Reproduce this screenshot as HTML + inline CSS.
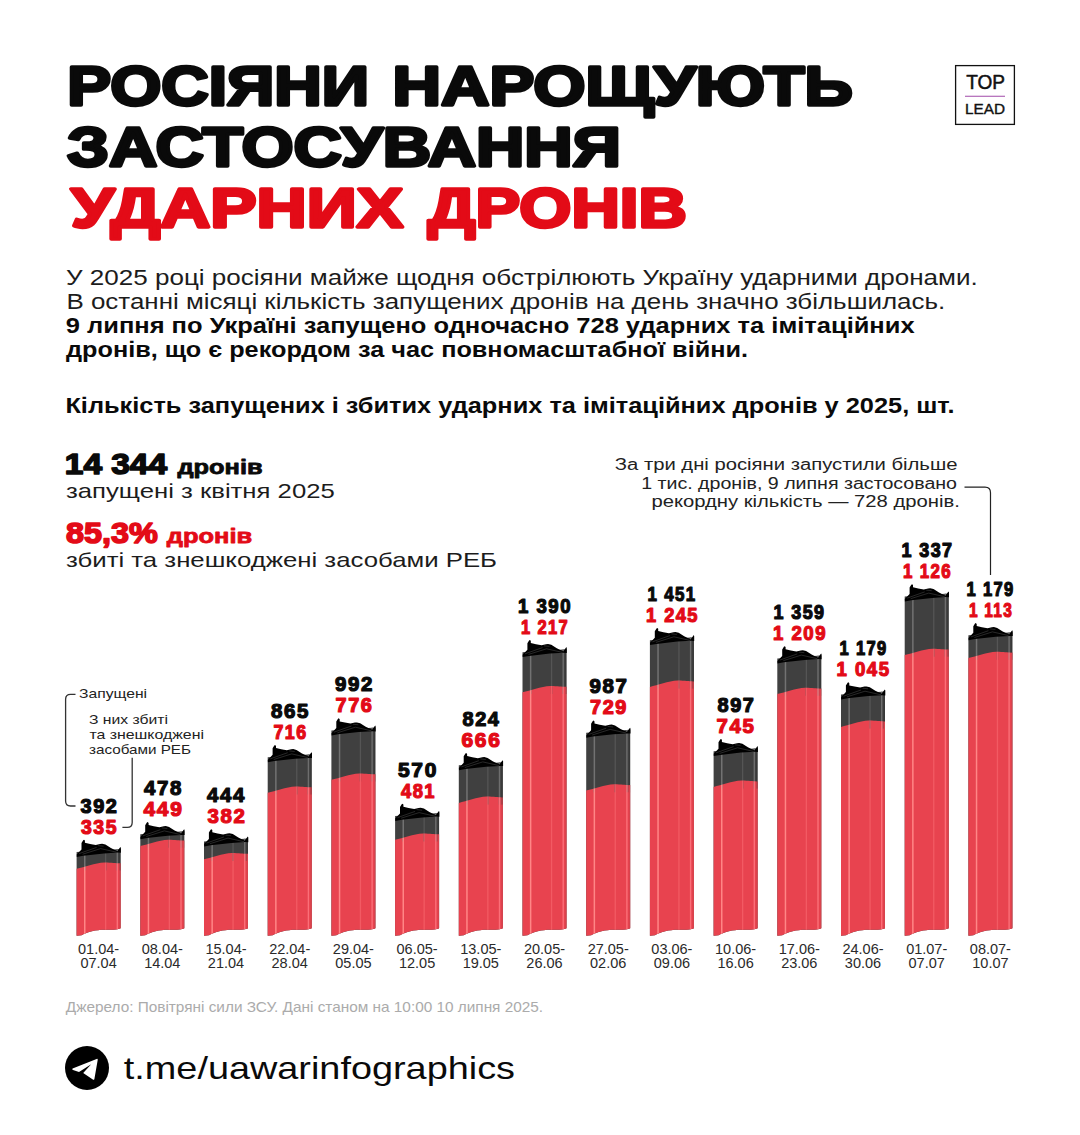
<!DOCTYPE html>
<html lang="uk">
<head>
<meta charset="utf-8">
<title>Росіяни нарощують застосування ударних дронів</title>
<style>
html,body{margin:0;padding:0;background:#fff;}
body{width:1080px;height:1135px;overflow:hidden;}
svg{display:block;font-family:"Liberation Sans", sans-serif;}
</style>
</head>
<body>
<svg width="1080" height="1135" viewBox="0 0 1080 1135">
<rect width="1080" height="1135" fill="#fff"/>
<clipPath id="cb0"><path d="M76.60 852.00 L120.60 849.00 L120.60 928.20 C116.60 930.20 110.60 929.80 104.60 929.70 C95.60 929.80 87.60 931.50 81.60 935.30 L76.60 935.80 Z"/></clipPath>
<clipPath id="cr0"><path d="M76.60 868.80 C84.60 867.00 94.60 863.00 104.60 862.50 C112.60 862.50 116.60 863.50 120.60 863.30 L120.60 928.20 C116.60 930.20 110.60 929.80 104.60 929.70 C95.60 929.80 87.60 931.50 81.60 935.30 L76.60 935.80 Z"/></clipPath>
<path d="M76.60 852.00 L120.60 849.00 L120.60 928.20 C116.60 930.20 110.60 929.80 104.60 929.70 C95.60 929.80 87.60 931.50 81.60 935.30 L76.60 935.80 Z" fill="#404040"/>
<path d="M76.60 868.80 C84.60 867.00 94.60 863.00 104.60 862.50 C112.60 862.50 116.60 863.50 120.60 863.30 L120.60 928.20 C116.60 930.20 110.60 929.80 104.60 929.70 C95.60 929.80 87.60 931.50 81.60 935.30 L76.60 935.80 Z" fill="#e8434f"/>
<g clip-path="url(#cb0)"><rect x="84.00" y="848.00" width="1.5" height="22.50" fill="#727272"/><rect x="105.00" y="848.00" width="1.3" height="22.50" fill="#555555"/><rect x="116.60" y="848.00" width="1.4" height="22.50" fill="#6e6e6e"/><rect x="119.20" y="848.00" width="1.4" height="22.50" fill="#383838"/></g>
<g clip-path="url(#cr0)"><rect x="84.00" y="860.50" width="1.5" height="77.50" fill="#ff8686"/><rect x="105.00" y="860.50" width="1.3" height="77.50" fill="#f25a63"/><rect x="116.60" y="860.50" width="1.4" height="77.50" fill="#fb6f78"/><rect x="119.20" y="860.50" width="1.4" height="77.50" fill="#d8434d"/></g>
<path d="M81.50 843.00 L83.20 840.20 L84.00 839.70 L84.90 840.60 L84.90 842.80 L90.10 844.00 L95.70 845.00 L100.10 844.00 L102.10 843.80 L105.40 844.60 L110.90 848.10 L117.40 851.20 L119.60 848.00 L120.50 846.90 L120.90 848.00 L120.90 852.80 L117.80 852.60 L104.00 853.40 L83.20 855.70 L76.80 856.90 L76.70 854.60 L81.50 849.50 Z" fill="#000"/>
<path d="M79.10 853.60 L96.60 847.40 M82.60 854.20 L100.60 848.60 L116.60 852.20 M98.10 845.60 L103.60 846.20" fill="none" stroke="#4a4a4a" stroke-width="0.55"/>
<clipPath id="cb1"><path d="M140.30 834.30 L184.30 831.30 L184.30 928.20 C180.30 930.20 174.30 929.80 168.30 929.70 C159.30 929.80 151.30 931.50 145.30 935.30 L140.30 935.80 Z"/></clipPath>
<clipPath id="cr1"><path d="M140.30 846.00 C148.30 844.20 158.30 840.20 168.30 839.70 C176.30 839.70 180.30 840.70 184.30 840.50 L184.30 928.20 C180.30 930.20 174.30 929.80 168.30 929.70 C159.30 929.80 151.30 931.50 145.30 935.30 L140.30 935.80 Z"/></clipPath>
<path d="M140.30 834.30 L184.30 831.30 L184.30 928.20 C180.30 930.20 174.30 929.80 168.30 929.70 C159.30 929.80 151.30 931.50 145.30 935.30 L140.30 935.80 Z" fill="#404040"/>
<path d="M140.30 846.00 C148.30 844.20 158.30 840.20 168.30 839.70 C176.30 839.70 180.30 840.70 184.30 840.50 L184.30 928.20 C180.30 930.20 174.30 929.80 168.30 929.70 C159.30 929.80 151.30 931.50 145.30 935.30 L140.30 935.80 Z" fill="#e8434f"/>
<g clip-path="url(#cb1)"><rect x="147.70" y="830.30" width="1.5" height="17.40" fill="#727272"/><rect x="168.70" y="830.30" width="1.3" height="17.40" fill="#555555"/><rect x="180.30" y="830.30" width="1.4" height="17.40" fill="#6e6e6e"/><rect x="182.90" y="830.30" width="1.4" height="17.40" fill="#383838"/></g>
<g clip-path="url(#cr1)"><rect x="147.70" y="837.70" width="1.5" height="100.30" fill="#ff8686"/><rect x="168.70" y="837.70" width="1.3" height="100.30" fill="#f25a63"/><rect x="180.30" y="837.70" width="1.4" height="100.30" fill="#fb6f78"/><rect x="182.90" y="837.70" width="1.4" height="100.30" fill="#d8434d"/></g>
<path d="M145.20 825.30 L146.90 822.50 L147.70 822.00 L148.60 822.90 L148.60 825.10 L153.80 826.30 L159.40 827.30 L163.80 826.30 L165.80 826.10 L169.10 826.90 L174.60 830.40 L181.10 833.50 L183.30 830.30 L184.20 829.20 L184.60 830.30 L184.60 835.10 L181.50 834.90 L167.70 835.70 L146.90 838.00 L140.50 839.20 L140.40 836.90 L145.20 831.80 Z" fill="#000"/>
<path d="M142.80 835.90 L160.30 829.70 M146.30 836.50 L164.30 830.90 L180.30 834.50 M161.80 827.90 L167.30 828.50" fill="none" stroke="#4a4a4a" stroke-width="0.55"/>
<clipPath id="cb2"><path d="M204.00 841.50 L248.00 838.50 L248.00 928.20 C244.00 930.20 238.00 929.80 232.00 929.70 C223.00 929.80 215.00 931.50 209.00 935.30 L204.00 935.80 Z"/></clipPath>
<clipPath id="cr2"><path d="M204.00 859.30 C212.00 857.50 222.00 853.50 232.00 853.00 C240.00 853.00 244.00 854.00 248.00 853.80 L248.00 928.20 C244.00 930.20 238.00 929.80 232.00 929.70 C223.00 929.80 215.00 931.50 209.00 935.30 L204.00 935.80 Z"/></clipPath>
<path d="M204.00 841.50 L248.00 838.50 L248.00 928.20 C244.00 930.20 238.00 929.80 232.00 929.70 C223.00 929.80 215.00 931.50 209.00 935.30 L204.00 935.80 Z" fill="#404040"/>
<path d="M204.00 859.30 C212.00 857.50 222.00 853.50 232.00 853.00 C240.00 853.00 244.00 854.00 248.00 853.80 L248.00 928.20 C244.00 930.20 238.00 929.80 232.00 929.70 C223.00 929.80 215.00 931.50 209.00 935.30 L204.00 935.80 Z" fill="#e8434f"/>
<g clip-path="url(#cb2)"><rect x="211.40" y="837.50" width="1.5" height="23.50" fill="#727272"/><rect x="232.40" y="837.50" width="1.3" height="23.50" fill="#555555"/><rect x="244.00" y="837.50" width="1.4" height="23.50" fill="#6e6e6e"/><rect x="246.60" y="837.50" width="1.4" height="23.50" fill="#383838"/></g>
<g clip-path="url(#cr2)"><rect x="211.40" y="851.00" width="1.5" height="87.00" fill="#ff8686"/><rect x="232.40" y="851.00" width="1.3" height="87.00" fill="#f25a63"/><rect x="244.00" y="851.00" width="1.4" height="87.00" fill="#fb6f78"/><rect x="246.60" y="851.00" width="1.4" height="87.00" fill="#d8434d"/></g>
<path d="M208.90 832.50 L210.60 829.70 L211.40 829.20 L212.30 830.10 L212.30 832.30 L217.50 833.50 L223.10 834.50 L227.50 833.50 L229.50 833.30 L232.80 834.10 L238.30 837.60 L244.80 840.70 L247.00 837.50 L247.90 836.40 L248.30 837.50 L248.30 842.30 L245.20 842.10 L231.40 842.90 L210.60 845.20 L204.20 846.40 L204.10 844.10 L208.90 839.00 Z" fill="#000"/>
<path d="M206.50 843.10 L224.00 836.90 M210.00 843.70 L228.00 838.10 L244.00 841.70 M225.50 835.10 L231.00 835.70" fill="none" stroke="#4a4a4a" stroke-width="0.55"/>
<clipPath id="cb3"><path d="M267.70 757.30 L311.70 754.30 L311.70 928.20 C307.70 930.20 301.70 929.80 295.70 929.70 C286.70 929.80 278.70 931.50 272.70 935.30 L267.70 935.80 Z"/></clipPath>
<clipPath id="cr3"><path d="M267.70 792.80 C275.70 791.00 285.70 787.00 295.70 786.50 C303.70 786.50 307.70 787.50 311.70 787.30 L311.70 928.20 C307.70 930.20 301.70 929.80 295.70 929.70 C286.70 929.80 278.70 931.50 272.70 935.30 L267.70 935.80 Z"/></clipPath>
<path d="M267.70 757.30 L311.70 754.30 L311.70 928.20 C307.70 930.20 301.70 929.80 295.70 929.70 C286.70 929.80 278.70 931.50 272.70 935.30 L267.70 935.80 Z" fill="#404040"/>
<path d="M267.70 792.80 C275.70 791.00 285.70 787.00 295.70 786.50 C303.70 786.50 307.70 787.50 311.70 787.30 L311.70 928.20 C307.70 930.20 301.70 929.80 295.70 929.70 C286.70 929.80 278.70 931.50 272.70 935.30 L267.70 935.80 Z" fill="#e8434f"/>
<g clip-path="url(#cb3)"><rect x="275.10" y="753.30" width="1.5" height="41.20" fill="#727272"/><rect x="296.10" y="753.30" width="1.3" height="41.20" fill="#555555"/><rect x="307.70" y="753.30" width="1.4" height="41.20" fill="#6e6e6e"/><rect x="310.30" y="753.30" width="1.4" height="41.20" fill="#383838"/></g>
<g clip-path="url(#cr3)"><rect x="275.10" y="784.50" width="1.5" height="153.50" fill="#ff8686"/><rect x="296.10" y="784.50" width="1.3" height="153.50" fill="#f25a63"/><rect x="307.70" y="784.50" width="1.4" height="153.50" fill="#fb6f78"/><rect x="310.30" y="784.50" width="1.4" height="153.50" fill="#d8434d"/></g>
<path d="M272.60 748.30 L274.30 745.50 L275.10 745.00 L276.00 745.90 L276.00 748.10 L281.20 749.30 L286.80 750.30 L291.20 749.30 L293.20 749.10 L296.50 749.90 L302.00 753.40 L308.50 756.50 L310.70 753.30 L311.60 752.20 L312.00 753.30 L312.00 758.10 L308.90 757.90 L295.10 758.70 L274.30 761.00 L267.90 762.20 L267.80 759.90 L272.60 754.80 Z" fill="#000"/>
<path d="M270.20 758.90 L287.70 752.70 M273.70 759.50 L291.70 753.90 L307.70 757.50 M289.20 750.90 L294.70 751.50" fill="none" stroke="#4a4a4a" stroke-width="0.55"/>
<clipPath id="cb4"><path d="M331.40 730.60 L375.40 727.60 L375.40 928.20 C371.40 930.20 365.40 929.80 359.40 929.70 C350.40 929.80 342.40 931.50 336.40 935.30 L331.40 935.80 Z"/></clipPath>
<clipPath id="cr4"><path d="M331.40 779.80 C339.40 778.00 349.40 774.00 359.40 773.50 C367.40 773.50 371.40 774.50 375.40 774.30 L375.40 928.20 C371.40 930.20 365.40 929.80 359.40 929.70 C350.40 929.80 342.40 931.50 336.40 935.30 L331.40 935.80 Z"/></clipPath>
<path d="M331.40 730.60 L375.40 727.60 L375.40 928.20 C371.40 930.20 365.40 929.80 359.40 929.70 C350.40 929.80 342.40 931.50 336.40 935.30 L331.40 935.80 Z" fill="#404040"/>
<path d="M331.40 779.80 C339.40 778.00 349.40 774.00 359.40 773.50 C367.40 773.50 371.40 774.50 375.40 774.30 L375.40 928.20 C371.40 930.20 365.40 929.80 359.40 929.70 C350.40 929.80 342.40 931.50 336.40 935.30 L331.40 935.80 Z" fill="#e8434f"/>
<g clip-path="url(#cb4)"><rect x="338.80" y="726.60" width="1.5" height="54.90" fill="#727272"/><rect x="359.80" y="726.60" width="1.3" height="54.90" fill="#555555"/><rect x="371.40" y="726.60" width="1.4" height="54.90" fill="#6e6e6e"/><rect x="374.00" y="726.60" width="1.4" height="54.90" fill="#383838"/></g>
<g clip-path="url(#cr4)"><rect x="338.80" y="771.50" width="1.5" height="166.50" fill="#ff8686"/><rect x="359.80" y="771.50" width="1.3" height="166.50" fill="#f25a63"/><rect x="371.40" y="771.50" width="1.4" height="166.50" fill="#fb6f78"/><rect x="374.00" y="771.50" width="1.4" height="166.50" fill="#d8434d"/></g>
<path d="M336.30 721.60 L338.00 718.80 L338.80 718.30 L339.70 719.20 L339.70 721.40 L344.90 722.60 L350.50 723.60 L354.90 722.60 L356.90 722.40 L360.20 723.20 L365.70 726.70 L372.20 729.80 L374.40 726.60 L375.30 725.50 L375.70 726.60 L375.70 731.40 L372.60 731.20 L358.80 732.00 L338.00 734.30 L331.60 735.50 L331.50 733.20 L336.30 728.10 Z" fill="#000"/>
<path d="M333.90 732.20 L351.40 726.00 M337.40 732.80 L355.40 727.20 L371.40 730.80 M352.90 724.20 L358.40 724.80" fill="none" stroke="#4a4a4a" stroke-width="0.55"/>
<clipPath id="cb5"><path d="M395.10 816.00 L439.10 813.00 L439.10 928.20 C435.10 930.20 429.10 929.80 423.10 929.70 C414.10 929.80 406.10 931.50 400.10 935.30 L395.10 935.80 Z"/></clipPath>
<clipPath id="cr5"><path d="M395.10 839.80 C403.10 838.00 413.10 834.00 423.10 833.50 C431.10 833.50 435.10 834.50 439.10 834.30 L439.10 928.20 C435.10 930.20 429.10 929.80 423.10 929.70 C414.10 929.80 406.10 931.50 400.10 935.30 L395.10 935.80 Z"/></clipPath>
<path d="M395.10 816.00 L439.10 813.00 L439.10 928.20 C435.10 930.20 429.10 929.80 423.10 929.70 C414.10 929.80 406.10 931.50 400.10 935.30 L395.10 935.80 Z" fill="#404040"/>
<path d="M395.10 839.80 C403.10 838.00 413.10 834.00 423.10 833.50 C431.10 833.50 435.10 834.50 439.10 834.30 L439.10 928.20 C435.10 930.20 429.10 929.80 423.10 929.70 C414.10 929.80 406.10 931.50 400.10 935.30 L395.10 935.80 Z" fill="#e8434f"/>
<g clip-path="url(#cb5)"><rect x="402.50" y="812.00" width="1.5" height="29.50" fill="#727272"/><rect x="423.50" y="812.00" width="1.3" height="29.50" fill="#555555"/><rect x="435.10" y="812.00" width="1.4" height="29.50" fill="#6e6e6e"/><rect x="437.70" y="812.00" width="1.4" height="29.50" fill="#383838"/></g>
<g clip-path="url(#cr5)"><rect x="402.50" y="831.50" width="1.5" height="106.50" fill="#ff8686"/><rect x="423.50" y="831.50" width="1.3" height="106.50" fill="#f25a63"/><rect x="435.10" y="831.50" width="1.4" height="106.50" fill="#fb6f78"/><rect x="437.70" y="831.50" width="1.4" height="106.50" fill="#d8434d"/></g>
<path d="M400.00 807.00 L401.70 804.20 L402.50 803.70 L403.40 804.60 L403.40 806.80 L408.60 808.00 L414.20 809.00 L418.60 808.00 L420.60 807.80 L423.90 808.60 L429.40 812.10 L435.90 815.20 L438.10 812.00 L439.00 810.90 L439.40 812.00 L439.40 816.80 L436.30 816.60 L422.50 817.40 L401.70 819.70 L395.30 820.90 L395.20 818.60 L400.00 813.50 Z" fill="#000"/>
<path d="M397.60 817.60 L415.10 811.40 M401.10 818.20 L419.10 812.60 L435.10 816.20 M416.60 809.60 L422.10 810.20" fill="none" stroke="#4a4a4a" stroke-width="0.55"/>
<clipPath id="cb6"><path d="M458.80 765.30 L502.80 762.30 L502.80 928.20 C498.80 930.20 492.80 929.80 486.80 929.70 C477.80 929.80 469.80 931.50 463.80 935.30 L458.80 935.80 Z"/></clipPath>
<clipPath id="cr6"><path d="M458.80 802.90 C466.80 801.10 476.80 797.10 486.80 796.60 C494.80 796.60 498.80 797.60 502.80 797.40 L502.80 928.20 C498.80 930.20 492.80 929.80 486.80 929.70 C477.80 929.80 469.80 931.50 463.80 935.30 L458.80 935.80 Z"/></clipPath>
<path d="M458.80 765.30 L502.80 762.30 L502.80 928.20 C498.80 930.20 492.80 929.80 486.80 929.70 C477.80 929.80 469.80 931.50 463.80 935.30 L458.80 935.80 Z" fill="#404040"/>
<path d="M458.80 802.90 C466.80 801.10 476.80 797.10 486.80 796.60 C494.80 796.60 498.80 797.60 502.80 797.40 L502.80 928.20 C498.80 930.20 492.80 929.80 486.80 929.70 C477.80 929.80 469.80 931.50 463.80 935.30 L458.80 935.80 Z" fill="#e8434f"/>
<g clip-path="url(#cb6)"><rect x="466.20" y="761.30" width="1.5" height="43.30" fill="#727272"/><rect x="487.20" y="761.30" width="1.3" height="43.30" fill="#555555"/><rect x="498.80" y="761.30" width="1.4" height="43.30" fill="#6e6e6e"/><rect x="501.40" y="761.30" width="1.4" height="43.30" fill="#383838"/></g>
<g clip-path="url(#cr6)"><rect x="466.20" y="794.60" width="1.5" height="143.40" fill="#ff8686"/><rect x="487.20" y="794.60" width="1.3" height="143.40" fill="#f25a63"/><rect x="498.80" y="794.60" width="1.4" height="143.40" fill="#fb6f78"/><rect x="501.40" y="794.60" width="1.4" height="143.40" fill="#d8434d"/></g>
<path d="M463.70 756.30 L465.40 753.50 L466.20 753.00 L467.10 753.90 L467.10 756.10 L472.30 757.30 L477.90 758.30 L482.30 757.30 L484.30 757.10 L487.60 757.90 L493.10 761.40 L499.60 764.50 L501.80 761.30 L502.70 760.20 L503.10 761.30 L503.10 766.10 L500.00 765.90 L486.20 766.70 L465.40 769.00 L459.00 770.20 L458.90 767.90 L463.70 762.80 Z" fill="#000"/>
<path d="M461.30 766.90 L478.80 760.70 M464.80 767.50 L482.80 761.90 L498.80 765.50 M480.30 758.90 L485.80 759.50" fill="none" stroke="#4a4a4a" stroke-width="0.55"/>
<clipPath id="cb7"><path d="M522.50 652.20 L566.50 649.20 L566.50 928.20 C562.50 930.20 556.50 929.80 550.50 929.70 C541.50 929.80 533.50 931.50 527.50 935.30 L522.50 935.80 Z"/></clipPath>
<clipPath id="cr7"><path d="M522.50 692.30 C530.50 690.50 540.50 686.50 550.50 686.00 C558.50 686.00 562.50 687.00 566.50 686.80 L566.50 928.20 C562.50 930.20 556.50 929.80 550.50 929.70 C541.50 929.80 533.50 931.50 527.50 935.30 L522.50 935.80 Z"/></clipPath>
<path d="M522.50 652.20 L566.50 649.20 L566.50 928.20 C562.50 930.20 556.50 929.80 550.50 929.70 C541.50 929.80 533.50 931.50 527.50 935.30 L522.50 935.80 Z" fill="#404040"/>
<path d="M522.50 692.30 C530.50 690.50 540.50 686.50 550.50 686.00 C558.50 686.00 562.50 687.00 566.50 686.80 L566.50 928.20 C562.50 930.20 556.50 929.80 550.50 929.70 C541.50 929.80 533.50 931.50 527.50 935.30 L522.50 935.80 Z" fill="#e8434f"/>
<g clip-path="url(#cb7)"><rect x="529.90" y="648.20" width="1.5" height="45.80" fill="#727272"/><rect x="550.90" y="648.20" width="1.3" height="45.80" fill="#555555"/><rect x="562.50" y="648.20" width="1.4" height="45.80" fill="#6e6e6e"/><rect x="565.10" y="648.20" width="1.4" height="45.80" fill="#383838"/></g>
<g clip-path="url(#cr7)"><rect x="529.90" y="684.00" width="1.5" height="254.00" fill="#ff8686"/><rect x="550.90" y="684.00" width="1.3" height="254.00" fill="#f25a63"/><rect x="562.50" y="684.00" width="1.4" height="254.00" fill="#fb6f78"/><rect x="565.10" y="684.00" width="1.4" height="254.00" fill="#d8434d"/></g>
<path d="M527.40 643.20 L529.10 640.40 L529.90 639.90 L530.80 640.80 L530.80 643.00 L536.00 644.20 L541.60 645.20 L546.00 644.20 L548.00 644.00 L551.30 644.80 L556.80 648.30 L563.30 651.40 L565.50 648.20 L566.40 647.10 L566.80 648.20 L566.80 653.00 L563.70 652.80 L549.90 653.60 L529.10 655.90 L522.70 657.10 L522.60 654.80 L527.40 649.70 Z" fill="#000"/>
<path d="M525.00 653.80 L542.50 647.60 M528.50 654.40 L546.50 648.80 L562.50 652.40 M544.00 645.80 L549.50 646.40" fill="none" stroke="#4a4a4a" stroke-width="0.55"/>
<clipPath id="cb8"><path d="M586.20 732.80 L630.20 729.80 L630.20 928.20 C626.20 930.20 620.20 929.80 614.20 929.70 C605.20 929.80 597.20 931.50 591.20 935.30 L586.20 935.80 Z"/></clipPath>
<clipPath id="cr8"><path d="M586.20 790.60 C594.20 788.80 604.20 784.80 614.20 784.30 C622.20 784.30 626.20 785.30 630.20 785.10 L630.20 928.20 C626.20 930.20 620.20 929.80 614.20 929.70 C605.20 929.80 597.20 931.50 591.20 935.30 L586.20 935.80 Z"/></clipPath>
<path d="M586.20 732.80 L630.20 729.80 L630.20 928.20 C626.20 930.20 620.20 929.80 614.20 929.70 C605.20 929.80 597.20 931.50 591.20 935.30 L586.20 935.80 Z" fill="#404040"/>
<path d="M586.20 790.60 C594.20 788.80 604.20 784.80 614.20 784.30 C622.20 784.30 626.20 785.30 630.20 785.10 L630.20 928.20 C626.20 930.20 620.20 929.80 614.20 929.70 C605.20 929.80 597.20 931.50 591.20 935.30 L586.20 935.80 Z" fill="#e8434f"/>
<g clip-path="url(#cb8)"><rect x="593.60" y="728.80" width="1.5" height="63.50" fill="#727272"/><rect x="614.60" y="728.80" width="1.3" height="63.50" fill="#555555"/><rect x="626.20" y="728.80" width="1.4" height="63.50" fill="#6e6e6e"/><rect x="628.80" y="728.80" width="1.4" height="63.50" fill="#383838"/></g>
<g clip-path="url(#cr8)"><rect x="593.60" y="782.30" width="1.5" height="155.70" fill="#ff8686"/><rect x="614.60" y="782.30" width="1.3" height="155.70" fill="#f25a63"/><rect x="626.20" y="782.30" width="1.4" height="155.70" fill="#fb6f78"/><rect x="628.80" y="782.30" width="1.4" height="155.70" fill="#d8434d"/></g>
<path d="M591.10 723.80 L592.80 721.00 L593.60 720.50 L594.50 721.40 L594.50 723.60 L599.70 724.80 L605.30 725.80 L609.70 724.80 L611.70 724.60 L615.00 725.40 L620.50 728.90 L627.00 732.00 L629.20 728.80 L630.10 727.70 L630.50 728.80 L630.50 733.60 L627.40 733.40 L613.60 734.20 L592.80 736.50 L586.40 737.70 L586.30 735.40 L591.10 730.30 Z" fill="#000"/>
<path d="M588.70 734.40 L606.20 728.20 M592.20 735.00 L610.20 729.40 L626.20 733.00 M607.70 726.40 L613.20 727.00" fill="none" stroke="#4a4a4a" stroke-width="0.55"/>
<clipPath id="cb9"><path d="M649.90 640.20 L693.90 637.20 L693.90 928.20 C689.90 930.20 683.90 929.80 677.90 929.70 C668.90 929.80 660.90 931.50 654.90 935.30 L649.90 935.80 Z"/></clipPath>
<clipPath id="cr9"><path d="M649.90 686.90 C657.90 685.10 667.90 681.10 677.90 680.60 C685.90 680.60 689.90 681.60 693.90 681.40 L693.90 928.20 C689.90 930.20 683.90 929.80 677.90 929.70 C668.90 929.80 660.90 931.50 654.90 935.30 L649.90 935.80 Z"/></clipPath>
<path d="M649.90 640.20 L693.90 637.20 L693.90 928.20 C689.90 930.20 683.90 929.80 677.90 929.70 C668.90 929.80 660.90 931.50 654.90 935.30 L649.90 935.80 Z" fill="#404040"/>
<path d="M649.90 686.90 C657.90 685.10 667.90 681.10 677.90 680.60 C685.90 680.60 689.90 681.60 693.90 681.40 L693.90 928.20 C689.90 930.20 683.90 929.80 677.90 929.70 C668.90 929.80 660.90 931.50 654.90 935.30 L649.90 935.80 Z" fill="#e8434f"/>
<g clip-path="url(#cb9)"><rect x="657.30" y="636.20" width="1.5" height="52.40" fill="#727272"/><rect x="678.30" y="636.20" width="1.3" height="52.40" fill="#555555"/><rect x="689.90" y="636.20" width="1.4" height="52.40" fill="#6e6e6e"/><rect x="692.50" y="636.20" width="1.4" height="52.40" fill="#383838"/></g>
<g clip-path="url(#cr9)"><rect x="657.30" y="678.60" width="1.5" height="259.40" fill="#ff8686"/><rect x="678.30" y="678.60" width="1.3" height="259.40" fill="#f25a63"/><rect x="689.90" y="678.60" width="1.4" height="259.40" fill="#fb6f78"/><rect x="692.50" y="678.60" width="1.4" height="259.40" fill="#d8434d"/></g>
<path d="M654.80 631.20 L656.50 628.40 L657.30 627.90 L658.20 628.80 L658.20 631.00 L663.40 632.20 L669.00 633.20 L673.40 632.20 L675.40 632.00 L678.70 632.80 L684.20 636.30 L690.70 639.40 L692.90 636.20 L693.80 635.10 L694.20 636.20 L694.20 641.00 L691.10 640.80 L677.30 641.60 L656.50 643.90 L650.10 645.10 L650.00 642.80 L654.80 637.70 Z" fill="#000"/>
<path d="M652.40 641.80 L669.90 635.60 M655.90 642.40 L673.90 636.80 L689.90 640.40 M671.40 633.80 L676.90 634.40" fill="none" stroke="#4a4a4a" stroke-width="0.55"/>
<clipPath id="cb10"><path d="M713.60 751.20 L757.60 748.20 L757.60 928.20 C753.60 930.20 747.60 929.80 741.60 929.70 C732.60 929.80 724.60 931.50 718.60 935.30 L713.60 935.80 Z"/></clipPath>
<clipPath id="cr10"><path d="M713.60 786.90 C721.60 785.10 731.60 781.10 741.60 780.60 C749.60 780.60 753.60 781.60 757.60 781.40 L757.60 928.20 C753.60 930.20 747.60 929.80 741.60 929.70 C732.60 929.80 724.60 931.50 718.60 935.30 L713.60 935.80 Z"/></clipPath>
<path d="M713.60 751.20 L757.60 748.20 L757.60 928.20 C753.60 930.20 747.60 929.80 741.60 929.70 C732.60 929.80 724.60 931.50 718.60 935.30 L713.60 935.80 Z" fill="#404040"/>
<path d="M713.60 786.90 C721.60 785.10 731.60 781.10 741.60 780.60 C749.60 780.60 753.60 781.60 757.60 781.40 L757.60 928.20 C753.60 930.20 747.60 929.80 741.60 929.70 C732.60 929.80 724.60 931.50 718.60 935.30 L713.60 935.80 Z" fill="#e8434f"/>
<g clip-path="url(#cb10)"><rect x="721.00" y="747.20" width="1.5" height="41.40" fill="#727272"/><rect x="742.00" y="747.20" width="1.3" height="41.40" fill="#555555"/><rect x="753.60" y="747.20" width="1.4" height="41.40" fill="#6e6e6e"/><rect x="756.20" y="747.20" width="1.4" height="41.40" fill="#383838"/></g>
<g clip-path="url(#cr10)"><rect x="721.00" y="778.60" width="1.5" height="159.40" fill="#ff8686"/><rect x="742.00" y="778.60" width="1.3" height="159.40" fill="#f25a63"/><rect x="753.60" y="778.60" width="1.4" height="159.40" fill="#fb6f78"/><rect x="756.20" y="778.60" width="1.4" height="159.40" fill="#d8434d"/></g>
<path d="M718.50 742.20 L720.20 739.40 L721.00 738.90 L721.90 739.80 L721.90 742.00 L727.10 743.20 L732.70 744.20 L737.10 743.20 L739.10 743.00 L742.40 743.80 L747.90 747.30 L754.40 750.40 L756.60 747.20 L757.50 746.10 L757.90 747.20 L757.90 752.00 L754.80 751.80 L741.00 752.60 L720.20 754.90 L713.80 756.10 L713.70 753.80 L718.50 748.70 Z" fill="#000"/>
<path d="M716.10 752.80 L733.60 746.60 M719.60 753.40 L737.60 747.80 L753.60 751.40 M735.10 744.80 L740.60 745.40" fill="none" stroke="#4a4a4a" stroke-width="0.55"/>
<clipPath id="cb11"><path d="M777.30 658.50 L821.30 655.50 L821.30 928.20 C817.30 930.20 811.30 929.80 805.30 929.70 C796.30 929.80 788.30 931.50 782.30 935.30 L777.30 935.80 Z"/></clipPath>
<clipPath id="cr11"><path d="M777.30 694.10 C785.30 692.30 795.30 688.30 805.30 687.80 C813.30 687.80 817.30 688.80 821.30 688.60 L821.30 928.20 C817.30 930.20 811.30 929.80 805.30 929.70 C796.30 929.80 788.30 931.50 782.30 935.30 L777.30 935.80 Z"/></clipPath>
<path d="M777.30 658.50 L821.30 655.50 L821.30 928.20 C817.30 930.20 811.30 929.80 805.30 929.70 C796.30 929.80 788.30 931.50 782.30 935.30 L777.30 935.80 Z" fill="#404040"/>
<path d="M777.30 694.10 C785.30 692.30 795.30 688.30 805.30 687.80 C813.30 687.80 817.30 688.80 821.30 688.60 L821.30 928.20 C817.30 930.20 811.30 929.80 805.30 929.70 C796.30 929.80 788.30 931.50 782.30 935.30 L777.30 935.80 Z" fill="#e8434f"/>
<g clip-path="url(#cb11)"><rect x="784.70" y="654.50" width="1.5" height="41.30" fill="#727272"/><rect x="805.70" y="654.50" width="1.3" height="41.30" fill="#555555"/><rect x="817.30" y="654.50" width="1.4" height="41.30" fill="#6e6e6e"/><rect x="819.90" y="654.50" width="1.4" height="41.30" fill="#383838"/></g>
<g clip-path="url(#cr11)"><rect x="784.70" y="685.80" width="1.5" height="252.20" fill="#ff8686"/><rect x="805.70" y="685.80" width="1.3" height="252.20" fill="#f25a63"/><rect x="817.30" y="685.80" width="1.4" height="252.20" fill="#fb6f78"/><rect x="819.90" y="685.80" width="1.4" height="252.20" fill="#d8434d"/></g>
<path d="M782.20 649.50 L783.90 646.70 L784.70 646.20 L785.60 647.10 L785.60 649.30 L790.80 650.50 L796.40 651.50 L800.80 650.50 L802.80 650.30 L806.10 651.10 L811.60 654.60 L818.10 657.70 L820.30 654.50 L821.20 653.40 L821.60 654.50 L821.60 659.30 L818.50 659.10 L804.70 659.90 L783.90 662.20 L777.50 663.40 L777.40 661.10 L782.20 656.00 Z" fill="#000"/>
<path d="M779.80 660.10 L797.30 653.90 M783.30 660.70 L801.30 655.10 L817.30 658.70 M798.80 652.10 L804.30 652.70" fill="none" stroke="#4a4a4a" stroke-width="0.55"/>
<clipPath id="cb12"><path d="M841.00 694.60 L885.00 691.60 L885.00 928.20 C881.00 930.20 875.00 929.80 869.00 929.70 C860.00 929.80 852.00 931.50 846.00 935.30 L841.00 935.80 Z"/></clipPath>
<clipPath id="cr12"><path d="M841.00 726.90 C849.00 725.10 859.00 721.10 869.00 720.60 C877.00 720.60 881.00 721.60 885.00 721.40 L885.00 928.20 C881.00 930.20 875.00 929.80 869.00 929.70 C860.00 929.80 852.00 931.50 846.00 935.30 L841.00 935.80 Z"/></clipPath>
<path d="M841.00 694.60 L885.00 691.60 L885.00 928.20 C881.00 930.20 875.00 929.80 869.00 929.70 C860.00 929.80 852.00 931.50 846.00 935.30 L841.00 935.80 Z" fill="#404040"/>
<path d="M841.00 726.90 C849.00 725.10 859.00 721.10 869.00 720.60 C877.00 720.60 881.00 721.60 885.00 721.40 L885.00 928.20 C881.00 930.20 875.00 929.80 869.00 929.70 C860.00 929.80 852.00 931.50 846.00 935.30 L841.00 935.80 Z" fill="#e8434f"/>
<g clip-path="url(#cb12)"><rect x="848.40" y="690.60" width="1.5" height="38.00" fill="#727272"/><rect x="869.40" y="690.60" width="1.3" height="38.00" fill="#555555"/><rect x="881.00" y="690.60" width="1.4" height="38.00" fill="#6e6e6e"/><rect x="883.60" y="690.60" width="1.4" height="38.00" fill="#383838"/></g>
<g clip-path="url(#cr12)"><rect x="848.40" y="718.60" width="1.5" height="219.40" fill="#ff8686"/><rect x="869.40" y="718.60" width="1.3" height="219.40" fill="#f25a63"/><rect x="881.00" y="718.60" width="1.4" height="219.40" fill="#fb6f78"/><rect x="883.60" y="718.60" width="1.4" height="219.40" fill="#d8434d"/></g>
<path d="M845.90 685.60 L847.60 682.80 L848.40 682.30 L849.30 683.20 L849.30 685.40 L854.50 686.60 L860.10 687.60 L864.50 686.60 L866.50 686.40 L869.80 687.20 L875.30 690.70 L881.80 693.80 L884.00 690.60 L884.90 689.50 L885.30 690.60 L885.30 695.40 L882.20 695.20 L868.40 696.00 L847.60 698.30 L841.20 699.50 L841.10 697.20 L845.90 692.10 Z" fill="#000"/>
<path d="M843.50 696.20 L861.00 690.00 M847.00 696.80 L865.00 691.20 L881.00 694.80 M862.50 688.20 L868.00 688.80" fill="none" stroke="#4a4a4a" stroke-width="0.55"/>
<clipPath id="cb13"><path d="M904.70 596.50 L948.70 593.50 L948.70 928.20 C944.70 930.20 938.70 929.80 932.70 929.70 C923.70 929.80 915.70 931.50 909.70 935.30 L904.70 935.80 Z"/></clipPath>
<clipPath id="cr13"><path d="M904.70 655.00 C912.70 653.20 922.70 649.20 932.70 648.70 C940.70 648.70 944.70 649.70 948.70 649.50 L948.70 928.20 C944.70 930.20 938.70 929.80 932.70 929.70 C923.70 929.80 915.70 931.50 909.70 935.30 L904.70 935.80 Z"/></clipPath>
<path d="M904.70 596.50 L948.70 593.50 L948.70 928.20 C944.70 930.20 938.70 929.80 932.70 929.70 C923.70 929.80 915.70 931.50 909.70 935.30 L904.70 935.80 Z" fill="#404040"/>
<path d="M904.70 655.00 C912.70 653.20 922.70 649.20 932.70 648.70 C940.70 648.70 944.70 649.70 948.70 649.50 L948.70 928.20 C944.70 930.20 938.70 929.80 932.70 929.70 C923.70 929.80 915.70 931.50 909.70 935.30 L904.70 935.80 Z" fill="#e8434f"/>
<g clip-path="url(#cb13)"><rect x="912.10" y="592.50" width="1.5" height="64.20" fill="#727272"/><rect x="933.10" y="592.50" width="1.3" height="64.20" fill="#555555"/><rect x="944.70" y="592.50" width="1.4" height="64.20" fill="#6e6e6e"/><rect x="947.30" y="592.50" width="1.4" height="64.20" fill="#383838"/></g>
<g clip-path="url(#cr13)"><rect x="912.10" y="646.70" width="1.5" height="291.30" fill="#ff8686"/><rect x="933.10" y="646.70" width="1.3" height="291.30" fill="#f25a63"/><rect x="944.70" y="646.70" width="1.4" height="291.30" fill="#fb6f78"/><rect x="947.30" y="646.70" width="1.4" height="291.30" fill="#d8434d"/></g>
<path d="M909.60 587.50 L911.30 584.70 L912.10 584.20 L913.00 585.10 L913.00 587.30 L918.20 588.50 L923.80 589.50 L928.20 588.50 L930.20 588.30 L933.50 589.10 L939.00 592.60 L945.50 595.70 L947.70 592.50 L948.60 591.40 L949.00 592.50 L949.00 597.30 L945.90 597.10 L932.10 597.90 L911.30 600.20 L904.90 601.40 L904.80 599.10 L909.60 594.00 Z" fill="#000"/>
<path d="M907.20 598.10 L924.70 591.90 M910.70 598.70 L928.70 593.10 L944.70 596.70 M926.20 590.10 L931.70 590.70" fill="none" stroke="#4a4a4a" stroke-width="0.55"/>
<clipPath id="cb14"><path d="M968.40 635.30 L1012.40 632.30 L1012.40 928.20 C1008.40 930.20 1002.40 929.80 996.40 929.70 C987.40 929.80 979.40 931.50 973.40 935.30 L968.40 935.80 Z"/></clipPath>
<clipPath id="cr14"><path d="M968.40 658.10 C976.40 656.30 986.40 652.30 996.40 651.80 C1004.40 651.80 1008.40 652.80 1012.40 652.60 L1012.40 928.20 C1008.40 930.20 1002.40 929.80 996.40 929.70 C987.40 929.80 979.40 931.50 973.40 935.30 L968.40 935.80 Z"/></clipPath>
<path d="M968.40 635.30 L1012.40 632.30 L1012.40 928.20 C1008.40 930.20 1002.40 929.80 996.40 929.70 C987.40 929.80 979.40 931.50 973.40 935.30 L968.40 935.80 Z" fill="#404040"/>
<path d="M968.40 658.10 C976.40 656.30 986.40 652.30 996.40 651.80 C1004.40 651.80 1008.40 652.80 1012.40 652.60 L1012.40 928.20 C1008.40 930.20 1002.40 929.80 996.40 929.70 C987.40 929.80 979.40 931.50 973.40 935.30 L968.40 935.80 Z" fill="#e8434f"/>
<g clip-path="url(#cb14)"><rect x="975.80" y="631.30" width="1.5" height="28.50" fill="#727272"/><rect x="996.80" y="631.30" width="1.3" height="28.50" fill="#555555"/><rect x="1008.40" y="631.30" width="1.4" height="28.50" fill="#6e6e6e"/><rect x="1011.00" y="631.30" width="1.4" height="28.50" fill="#383838"/></g>
<g clip-path="url(#cr14)"><rect x="975.80" y="649.80" width="1.5" height="288.20" fill="#ff8686"/><rect x="996.80" y="649.80" width="1.3" height="288.20" fill="#f25a63"/><rect x="1008.40" y="649.80" width="1.4" height="288.20" fill="#fb6f78"/><rect x="1011.00" y="649.80" width="1.4" height="288.20" fill="#d8434d"/></g>
<path d="M973.30 626.30 L975.00 623.50 L975.80 623.00 L976.70 623.90 L976.70 626.10 L981.90 627.30 L987.50 628.30 L991.90 627.30 L993.90 627.10 L997.20 627.90 L1002.70 631.40 L1009.20 634.50 L1011.40 631.30 L1012.30 630.20 L1012.70 631.30 L1012.70 636.10 L1009.60 635.90 L995.80 636.70 L975.00 639.00 L968.60 640.20 L968.50 637.90 L973.30 632.80 Z" fill="#000"/>
<path d="M970.90 636.90 L988.40 630.70 M974.40 637.50 L992.40 631.90 L1008.40 635.50 M989.90 628.90 L995.40 629.50" fill="none" stroke="#4a4a4a" stroke-width="0.55"/>
<text id="ti1a" x="67.20" y="105.40" font-size="56.4" font-weight="bold" fill="#0a0a0a" textLength="301.80" lengthAdjust="spacingAndGlyphs" stroke="#0a0a0a" stroke-width="3.3" stroke-linejoin="round">РОСІЯНИ</text>
<text id="ti1b" x="392.40" y="105.40" font-size="56.4" font-weight="bold" fill="#0a0a0a" textLength="460.40" lengthAdjust="spacingAndGlyphs" stroke="#0a0a0a" stroke-width="3.3" stroke-linejoin="round">НАРОЩУЮТЬ</text>
<text id="ti2" x="67.00" y="166.40" font-size="56.4" font-weight="bold" fill="#0a0a0a" textLength="553.80" lengthAdjust="spacingAndGlyphs" stroke="#0a0a0a" stroke-width="3.3" stroke-linejoin="round">ЗАСТОСУВАННЯ</text>
<text id="ti3a" x="71.00" y="227.40" font-size="56.4" font-weight="bold" fill="#e30b17" textLength="332.00" lengthAdjust="spacingAndGlyphs" stroke="#e30b17" stroke-width="3.3" stroke-linejoin="round">УДАРНИХ</text>
<text id="ti3b" x="427.80" y="227.40" font-size="56.4" font-weight="bold" fill="#e30b17" textLength="259.00" lengthAdjust="spacingAndGlyphs" stroke="#e30b17" stroke-width="3.3" stroke-linejoin="round">ДРОНІВ</text>
<rect x="955.6" y="65.6" width="58.8" height="58.8" fill="none" stroke="#111" stroke-width="1.3"/>
<text id="logo1" x="966.20" y="89.00" font-size="19.5" fill="#111" textLength="38.80" lengthAdjust="spacingAndGlyphs" stroke="#111" stroke-width="0.5" stroke-linejoin="round">TOP</text>
<line x1="965" y1="96.3" x2="1005" y2="96.3" stroke="#a04aa8" stroke-width="1.1"/>
<text id="logo2" x="965.00" y="114.20" font-size="15.5" fill="#111" textLength="40.00" lengthAdjust="spacingAndGlyphs" stroke="#111" stroke-width="0.4" stroke-linejoin="round">LEAD</text>
<text id="p1" x="66.00" y="285.00" font-size="22" fill="#1c1c1c" textLength="911.80" lengthAdjust="spacingAndGlyphs">У 2025 році росіяни майже щодня обстрілюють Україну ударними дронами.</text>
<text id="p2" x="66.40" y="309.00" font-size="22" fill="#1c1c1c" textLength="878.80" lengthAdjust="spacingAndGlyphs">В останні місяці кількість запущених дронів на день значно збільшилась.</text>
<text id="p3" x="65.80" y="333.00" font-size="22" font-weight="bold" fill="#0a0a0a" textLength="848.80" lengthAdjust="spacingAndGlyphs">9 липня по Україні запущено одночасно 728 ударних та імітаційних</text>
<text id="p4" x="66.00" y="357.00" font-size="22" font-weight="bold" fill="#0a0a0a" textLength="682.00" lengthAdjust="spacingAndGlyphs">дронів, що є рекордом за час повномасштабної війни.</text>
<text id="p5" x="65.40" y="413.30" font-size="22" font-weight="bold" fill="#0a0a0a" textLength="889.20" lengthAdjust="spacingAndGlyphs">Кількість запущених і збитих ударних та імітаційних дронів у 2025, шт.</text>
<text id="s1" x="64.80" y="474.00" font-size="30" font-weight="bold" fill="#0a0a0a" textLength="102.20" lengthAdjust="spacingAndGlyphs" stroke="#0a0a0a" stroke-width="1.6" stroke-linejoin="round">14 344</text>
<text id="s2" x="177.40" y="473.70" font-size="21" font-weight="bold" fill="#0a0a0a" textLength="85.20" lengthAdjust="spacingAndGlyphs" stroke="#0a0a0a" stroke-width="0.8" stroke-linejoin="round">дронів</text>
<text id="s3" x="66.00" y="497.60" font-size="21" fill="#1c1c1c" textLength="268.80" lengthAdjust="spacingAndGlyphs">запущені з квітня 2025</text>
<text id="s4" x="66.00" y="543.20" font-size="30" font-weight="bold" fill="#e30b17" textLength="91.80" lengthAdjust="spacingAndGlyphs" stroke="#e30b17" stroke-width="1.6" stroke-linejoin="round">85,3%</text>
<text id="s5" x="166.80" y="543.20" font-size="21" font-weight="bold" fill="#e30b17" textLength="85.40" lengthAdjust="spacingAndGlyphs" stroke="#e30b17" stroke-width="0.8" stroke-linejoin="round">дронів</text>
<text id="s6" x="66.00" y="567.20" font-size="21" fill="#1c1c1c" textLength="431.00" lengthAdjust="spacingAndGlyphs">збиті та знешкоджені засобами РЕБ</text>
<text id="r1" x="614.80" y="469.60" font-size="16" fill="#222" textLength="342.60" lengthAdjust="spacingAndGlyphs">За три дні росіяни запустили більше</text>
<text id="r2" x="641.20" y="488.80" font-size="16" fill="#222" textLength="315.80" lengthAdjust="spacingAndGlyphs">1 тис. дронів, 9 липня застосовано</text>
<text id="r3" x="651.40" y="507.40" font-size="16" fill="#222" textLength="308.40" lengthAdjust="spacingAndGlyphs">рекордну кількість — 728 дронів.</text>
<path d="M964.5 487.2 H985 Q990.5 487.2 990.5 492.7 V575" fill="none" stroke="#222" stroke-width="1.2"/>
<text id="a1" x="79.00" y="697.60" font-size="13" fill="#222" textLength="68.00" lengthAdjust="spacingAndGlyphs">Запущені</text>
<text id="a2" x="89.00" y="724.00" font-size="13" fill="#222" textLength="79.00" lengthAdjust="spacingAndGlyphs">З них збиті</text>
<text id="a3" x="89.40" y="739.00" font-size="13" fill="#222" textLength="114.60" lengthAdjust="spacingAndGlyphs">та знешкоджені</text>
<text id="a4" x="89.00" y="754.00" font-size="13" fill="#222" textLength="102.00" lengthAdjust="spacingAndGlyphs">засобами РЕБ</text>
<path d="M75.5 694.3 H70.5 Q65.6 694.3 65.6 699.2 V801 Q65.6 806 70.5 806 H75.5" fill="none" stroke="#333" stroke-width="1.3"/>
<path d="M132.2 757.8 V822.5 Q132.2 827.4 127.3 827.4 H122.4" fill="none" stroke="#333" stroke-width="1.3"/>
<text id="nl0" x="80.50" y="812.50" font-size="20" font-weight="bold" fill="#0a0a0a" textLength="38.00" lengthAdjust="spacingAndGlyphs" stroke="#0a0a0a" stroke-width="1.2" stroke-linejoin="round" letter-spacing="1.6">392</text>
<text id="ns0" x="81.00" y="833.50" font-size="20" font-weight="bold" fill="#e30b17" textLength="37.00" lengthAdjust="spacingAndGlyphs" stroke="#e30b17" stroke-width="1.2" stroke-linejoin="round" letter-spacing="1.6">335</text>
<text x="98.60" y="953.80" font-size="14.5" fill="#2a2a2a" text-anchor="middle">01.04-</text>
<text x="98.60" y="967.80" font-size="14.5" fill="#2a2a2a" text-anchor="middle">07.04</text>
<text id="nl1" x="144.00" y="794.80" font-size="20" font-weight="bold" fill="#0a0a0a" textLength="39.00" lengthAdjust="spacingAndGlyphs" stroke="#0a0a0a" stroke-width="1.2" stroke-linejoin="round" letter-spacing="1.6">478</text>
<text id="ns1" x="143.50" y="815.80" font-size="20" font-weight="bold" fill="#e30b17" textLength="40.00" lengthAdjust="spacingAndGlyphs" stroke="#e30b17" stroke-width="1.2" stroke-linejoin="round" letter-spacing="1.6">449</text>
<text x="162.30" y="953.80" font-size="14.5" fill="#2a2a2a" text-anchor="middle">08.04-</text>
<text x="162.30" y="967.80" font-size="14.5" fill="#2a2a2a" text-anchor="middle">14.04</text>
<text id="nl2" x="207.00" y="802.00" font-size="20" font-weight="bold" fill="#0a0a0a" textLength="39.00" lengthAdjust="spacingAndGlyphs" stroke="#0a0a0a" stroke-width="1.2" stroke-linejoin="round" letter-spacing="1.6">444</text>
<text id="ns2" x="207.50" y="823.00" font-size="20" font-weight="bold" fill="#e30b17" textLength="39.00" lengthAdjust="spacingAndGlyphs" stroke="#e30b17" stroke-width="1.2" stroke-linejoin="round" letter-spacing="1.6">382</text>
<text x="226.00" y="953.80" font-size="14.5" fill="#2a2a2a" text-anchor="middle">15.04-</text>
<text x="226.00" y="967.80" font-size="14.5" fill="#2a2a2a" text-anchor="middle">21.04</text>
<text id="nl3" x="271.00" y="717.80" font-size="20" font-weight="bold" fill="#0a0a0a" textLength="39.00" lengthAdjust="spacingAndGlyphs" stroke="#0a0a0a" stroke-width="1.2" stroke-linejoin="round" letter-spacing="1.6">865</text>
<text id="ns3" x="273.50" y="738.80" font-size="20" font-weight="bold" fill="#e30b17" textLength="34.00" lengthAdjust="spacingAndGlyphs" stroke="#e30b17" stroke-width="1.2" stroke-linejoin="round" letter-spacing="1.6">716</text>
<text x="289.70" y="953.80" font-size="14.5" fill="#2a2a2a" text-anchor="middle">22.04-</text>
<text x="289.70" y="967.80" font-size="14.5" fill="#2a2a2a" text-anchor="middle">28.04</text>
<text id="nl4" x="335.00" y="691.10" font-size="20" font-weight="bold" fill="#0a0a0a" textLength="39.00" lengthAdjust="spacingAndGlyphs" stroke="#0a0a0a" stroke-width="1.2" stroke-linejoin="round" letter-spacing="1.6">992</text>
<text id="ns4" x="335.50" y="712.10" font-size="20" font-weight="bold" fill="#e30b17" textLength="38.00" lengthAdjust="spacingAndGlyphs" stroke="#e30b17" stroke-width="1.2" stroke-linejoin="round" letter-spacing="1.6">776</text>
<text x="353.40" y="953.80" font-size="14.5" fill="#2a2a2a" text-anchor="middle">29.04-</text>
<text x="353.40" y="967.80" font-size="14.5" fill="#2a2a2a" text-anchor="middle">05.05</text>
<text id="nl5" x="398.00" y="776.50" font-size="20" font-weight="bold" fill="#0a0a0a" textLength="40.00" lengthAdjust="spacingAndGlyphs" stroke="#0a0a0a" stroke-width="1.2" stroke-linejoin="round" letter-spacing="1.6">570</text>
<text id="ns5" x="401.00" y="797.50" font-size="20" font-weight="bold" fill="#e30b17" textLength="35.00" lengthAdjust="spacingAndGlyphs" stroke="#e30b17" stroke-width="1.2" stroke-linejoin="round" letter-spacing="1.6">481</text>
<text x="417.10" y="953.80" font-size="14.5" fill="#2a2a2a" text-anchor="middle">06.05-</text>
<text x="417.10" y="967.80" font-size="14.5" fill="#2a2a2a" text-anchor="middle">12.05</text>
<text id="nl6" x="462.50" y="725.80" font-size="20" font-weight="bold" fill="#0a0a0a" textLength="38.00" lengthAdjust="spacingAndGlyphs" stroke="#0a0a0a" stroke-width="1.2" stroke-linejoin="round" letter-spacing="1.6">824</text>
<text id="ns6" x="461.50" y="746.80" font-size="20" font-weight="bold" fill="#e30b17" textLength="40.00" lengthAdjust="spacingAndGlyphs" stroke="#e30b17" stroke-width="1.2" stroke-linejoin="round" letter-spacing="1.6">666</text>
<text x="480.80" y="953.80" font-size="14.5" fill="#2a2a2a" text-anchor="middle">13.05-</text>
<text x="480.80" y="967.80" font-size="14.5" fill="#2a2a2a" text-anchor="middle">19.05</text>
<text id="nl7" x="518.00" y="612.70" font-size="20" font-weight="bold" fill="#0a0a0a" textLength="54.00" lengthAdjust="spacingAndGlyphs" stroke="#0a0a0a" stroke-width="1.2" stroke-linejoin="round" letter-spacing="1.6">1 390</text>
<text id="ns7" x="521.00" y="633.70" font-size="20" font-weight="bold" fill="#e30b17" textLength="48.00" lengthAdjust="spacingAndGlyphs" stroke="#e30b17" stroke-width="1.2" stroke-linejoin="round" letter-spacing="1.6">1 217</text>
<text x="544.50" y="953.80" font-size="14.5" fill="#2a2a2a" text-anchor="middle">20.05-</text>
<text x="544.50" y="967.80" font-size="14.5" fill="#2a2a2a" text-anchor="middle">26.06</text>
<text id="nl8" x="589.50" y="693.30" font-size="20" font-weight="bold" fill="#0a0a0a" textLength="39.00" lengthAdjust="spacingAndGlyphs" stroke="#0a0a0a" stroke-width="1.2" stroke-linejoin="round" letter-spacing="1.6">987</text>
<text id="ns8" x="590.00" y="714.30" font-size="20" font-weight="bold" fill="#e30b17" textLength="38.00" lengthAdjust="spacingAndGlyphs" stroke="#e30b17" stroke-width="1.2" stroke-linejoin="round" letter-spacing="1.6">729</text>
<text x="608.20" y="953.80" font-size="14.5" fill="#2a2a2a" text-anchor="middle">27.05-</text>
<text x="608.20" y="967.80" font-size="14.5" fill="#2a2a2a" text-anchor="middle">02.06</text>
<text id="nl9" x="647.50" y="600.70" font-size="20" font-weight="bold" fill="#0a0a0a" textLength="49.00" lengthAdjust="spacingAndGlyphs" stroke="#0a0a0a" stroke-width="1.2" stroke-linejoin="round" letter-spacing="1.6">1 451</text>
<text id="ns9" x="646.00" y="621.70" font-size="20" font-weight="bold" fill="#e30b17" textLength="53.00" lengthAdjust="spacingAndGlyphs" stroke="#e30b17" stroke-width="1.2" stroke-linejoin="round" letter-spacing="1.6">1 245</text>
<text x="671.90" y="953.80" font-size="14.5" fill="#2a2a2a" text-anchor="middle">03.06-</text>
<text x="671.90" y="967.80" font-size="14.5" fill="#2a2a2a" text-anchor="middle">09.06</text>
<text id="nl10" x="717.50" y="711.70" font-size="20" font-weight="bold" fill="#0a0a0a" textLength="38.00" lengthAdjust="spacingAndGlyphs" stroke="#0a0a0a" stroke-width="1.2" stroke-linejoin="round" letter-spacing="1.6">897</text>
<text id="ns10" x="716.50" y="732.70" font-size="20" font-weight="bold" fill="#e30b17" textLength="39.00" lengthAdjust="spacingAndGlyphs" stroke="#e30b17" stroke-width="1.2" stroke-linejoin="round" letter-spacing="1.6">745</text>
<text x="735.60" y="953.80" font-size="14.5" fill="#2a2a2a" text-anchor="middle">10.06-</text>
<text x="735.60" y="967.80" font-size="14.5" fill="#2a2a2a" text-anchor="middle">16.06</text>
<text id="nl11" x="773.50" y="619.00" font-size="20" font-weight="bold" fill="#0a0a0a" textLength="52.00" lengthAdjust="spacingAndGlyphs" stroke="#0a0a0a" stroke-width="1.2" stroke-linejoin="round" letter-spacing="1.6">1 359</text>
<text id="ns11" x="773.00" y="640.00" font-size="20" font-weight="bold" fill="#e30b17" textLength="54.00" lengthAdjust="spacingAndGlyphs" stroke="#e30b17" stroke-width="1.2" stroke-linejoin="round" letter-spacing="1.6">1 209</text>
<text x="799.30" y="953.80" font-size="14.5" fill="#2a2a2a" text-anchor="middle">17.06-</text>
<text x="799.30" y="967.80" font-size="14.5" fill="#2a2a2a" text-anchor="middle">23.06</text>
<text id="nl12" x="839.50" y="655.10" font-size="20" font-weight="bold" fill="#0a0a0a" textLength="48.00" lengthAdjust="spacingAndGlyphs" stroke="#0a0a0a" stroke-width="1.2" stroke-linejoin="round" letter-spacing="1.6">1 179</text>
<text id="ns12" x="836.50" y="676.10" font-size="20" font-weight="bold" fill="#e30b17" textLength="54.00" lengthAdjust="spacingAndGlyphs" stroke="#e30b17" stroke-width="1.2" stroke-linejoin="round" letter-spacing="1.6">1 045</text>
<text x="863.00" y="953.80" font-size="14.5" fill="#2a2a2a" text-anchor="middle">24.06-</text>
<text x="863.00" y="967.80" font-size="14.5" fill="#2a2a2a" text-anchor="middle">30.06</text>
<text id="nl13" x="901.50" y="557.00" font-size="20" font-weight="bold" fill="#0a0a0a" textLength="52.00" lengthAdjust="spacingAndGlyphs" stroke="#0a0a0a" stroke-width="1.2" stroke-linejoin="round" letter-spacing="1.6">1 337</text>
<text id="ns13" x="903.00" y="578.00" font-size="20" font-weight="bold" fill="#e30b17" textLength="49.00" lengthAdjust="spacingAndGlyphs" stroke="#e30b17" stroke-width="1.2" stroke-linejoin="round" letter-spacing="1.6">1 126</text>
<text x="926.70" y="953.80" font-size="14.5" fill="#2a2a2a" text-anchor="middle">01.07-</text>
<text x="926.70" y="967.80" font-size="14.5" fill="#2a2a2a" text-anchor="middle">07.07</text>
<text id="nl14" x="966.50" y="595.80" font-size="20" font-weight="bold" fill="#0a0a0a" textLength="48.00" lengthAdjust="spacingAndGlyphs" stroke="#0a0a0a" stroke-width="1.2" stroke-linejoin="round" letter-spacing="1.6">1 179</text>
<text id="ns14" x="969.00" y="616.80" font-size="20" font-weight="bold" fill="#e30b17" textLength="44.00" lengthAdjust="spacingAndGlyphs" stroke="#e30b17" stroke-width="1.2" stroke-linejoin="round" letter-spacing="1.6">1 113</text>
<text x="990.40" y="953.80" font-size="14.5" fill="#2a2a2a" text-anchor="middle">08.07-</text>
<text x="990.40" y="967.80" font-size="14.5" fill="#2a2a2a" text-anchor="middle">10.07</text>
<text id="f1" x="65.80" y="1012.20" font-size="14.5" fill="#ababab" textLength="477.30" lengthAdjust="spacingAndGlyphs">Джерело: Повітряні сили ЗСУ. Дані станом на 10:00 10 липня 2025.</text>
<circle cx="87" cy="1068" r="22" fill="#000"/>
<path d="M72.6 1068.6 L96.6 1058.9 Q97.9 1058.5 97.7 1059.9 L94.4 1078.9 Q94 1080.3 92.8 1079.6 L83.2 1073.0 L91.2 1064.3 L79 1071.9 L73 1070.1 Q71.5 1069.4 72.6 1068.6 Z" fill="#fff"/>
<text id="f2" x="123.80" y="1078.60" font-size="32" fill="#0a0a0a" textLength="391.20" lengthAdjust="spacingAndGlyphs">t.me/uawarinfographics</text>
</svg>
</body>
</html>
